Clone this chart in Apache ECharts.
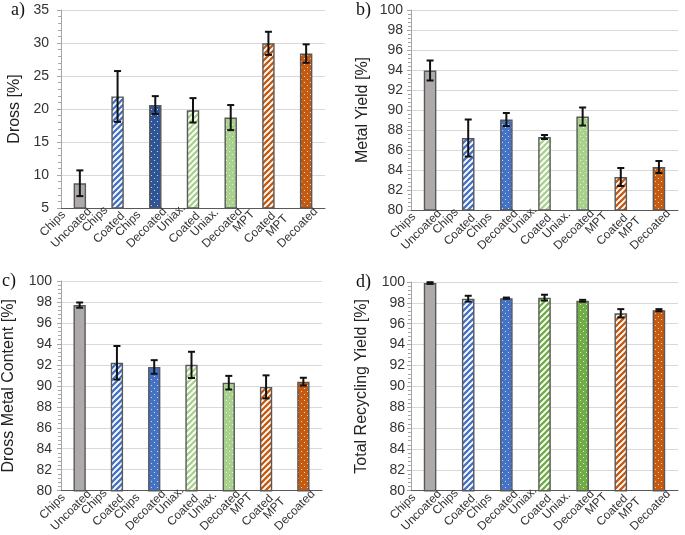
<!DOCTYPE html>
<html>
<head>
<meta charset="utf-8">
<script src="https://cdn.jsdelivr.net/npm/echarts@6/dist/echarts.min.js"></script>
<style>html,body{margin:0;padding:0;background:#fff;}#c{width:685px;height:535px;}</style>
</head>
<body>
<div id="c"></div>
<script>
const categories = ['Chips\nUncoated','Chips\nCoated','Chips\nDecoated','Uniax.\nCoated','Uniax.\nDecoated','MPT\nCoated','MPT\nDecoated'];
const drossValues = [8.75, 21.9, 20.6, 19.8, 18.7, 29.95, 28.4];
const drossErrors = [1.95, 3.85, 1.35, 1.85, 1.9, 1.75, 1.4];
const yieldValues = [93.95, 87.2, 89.05, 87.3, 89.35, 83.3, 84.3];
const yieldErrors = [1.0, 1.85, 0.65, 0.2, 0.9, 0.9, 0.6];
const contentValues = [97.7, 92.2, 91.8, 92.0, 90.3, 89.9, 90.4];
const contentErrors = [0.25, 1.6, 0.65, 1.25, 0.65, 1.1, 0.37];
const recyclingValues = [99.9, 98.4, 98.45, 98.5, 98.2, 97.0, 97.3];
const recyclingErrors = [0.08, 0.28, 0.06, 0.28, 0.09, 0.4, 0.1];
const panelLabels = ['a)', 'b)', 'c)', 'd)'];
const axisTitles = ['Dross [%]', 'Metal Yield [%]', 'Dross Metal Content [%]', 'Total Recycling Yield [%]'];

function stripe(color) {
  const s = 6, c = document.createElement('canvas');
  c.width = s; c.height = s;
  const g = c.getContext('2d');
  g.fillStyle = '#fff'; g.fillRect(0, 0, s, s);
  g.strokeStyle = color; g.lineWidth = 2.3; g.lineCap = 'square';
  g.beginPath();
  for (let k = -s; k <= 2 * s; k += s) { g.moveTo(k, s); g.lineTo(k + s, 0); }
  g.stroke();
  return { image: c, repeat: 'repeat' };
}
function dots(color) {
  const w = 6, h = 6, c = document.createElement('canvas');
  c.width = w; c.height = h;
  const g = c.getContext('2d');
  g.fillStyle = color; g.fillRect(0, 0, w, h);
  g.fillStyle = 'rgba(255,255,255,0.75)';
  g.fillRect(1, 1, 1, 1); g.fillRect(4, 4, 1, 1);
  return { image: c, repeat: 'repeat' };
}
const GRAY = '#aeaaaa', BLUE = '#4472c4', DBLUE = '#2f5597', LGREEN = '#a9d18e', GREEN = '#70ad47', ORANGE = '#c55a11';
function fills(decBlue, green) {
  return [GRAY, stripe(BLUE), dots(decBlue), stripe(green), dots(green), stripe(ORANGE), dots(ORANGE)];
}
const panelFills = [fills(DBLUE, LGREEN), fills(BLUE, LGREEN), fills(BLUE, LGREEN), fills(BLUE, GREEN)];
const grids = [
  { left: 61, top: 10, width: 264, height: 198 },
  { left: 411, top: 10, width: 267, height: 200 },
  { left: 61, top: 281, width: 261, height: 216 },
  { left: 411, top: 282, width: 267, height: 214 }
];
const yRanges = [[5, 35, 5], [80, 100, 2], [80, 100, 2], [80, 100, 2]];
const nameGaps = [38, 40, 44, 41];
const labelMargins = [12, 8, 9, 6];
const values = [drossValues, yieldValues, contentValues, recyclingValues];
const errors = [drossErrors, yieldErrors, contentErrors, recyclingErrors];
const labelPos = [[11, 1], [356, 1], [2, 272], [356, 273]];

const option = { animation: false, grid: [], xAxis: [], yAxis: [], series: [], title: [] };
for (let p = 0; p < 4; p++) {
  option.grid.push(grids[p]);
  option.title.push({ text: panelLabels[p], left: labelPos[p][0], top: labelPos[p][1], padding: 0,
    textStyle: { fontFamily: 'Liberation Serif', fontSize: 18, fontWeight: 'normal', color: '#111' } });
  option.xAxis.push({
    type: 'category', gridIndex: p, data: categories,
    axisLine: { show: true, lineStyle: { color: '#595959', width: 1 } },
    axisTick: { show: false },
    axisLabel: {
      interval: 0, rotate: 45, align: 'center', verticalAlign: 'middle', margin: 0,
      padding: [0, 40, 0, 0], color: '#333', fontFamily: 'Liberation Sans', fontSize: 12,
      formatter: v => v.split('\n').map(s => '{l|' + s + '}').join('\n'),
      rich: { l: { align: 'left', fontFamily: 'Liberation Sans', fontSize: 12, lineHeight: 16, color: '#333' } }
    }
  });
  option.yAxis.push({
    type: 'value', gridIndex: p, min: yRanges[p][0], max: yRanges[p][1], interval: yRanges[p][2],
    name: axisTitles[p], nameLocation: 'middle', nameRotate: 90, nameGap: nameGaps[p],
    nameTextStyle: { fontFamily: 'Liberation Sans', fontSize: 16, color: '#222' },
    axisLine: { show: true, lineStyle: { color: '#a6a6a6', width: 1 } },
    axisTick: { show: true, length: 4, lineStyle: { color: '#a6a6a6' } },
    minorTick: { show: true, splitNumber: 5, length: 3, lineStyle: { color: '#a6a6a6' } },
    splitLine: { show: true, lineStyle: { color: '#d9d9d9', width: 1 } },
    axisLabel: { fontFamily: 'Liberation Sans', fontSize: 14, color: '#333', margin: labelMargins[p] }
  });
  option.series.push({
    type: 'bar', xAxisIndex: p, yAxisIndex: p, barWidth: '33%', clip: true,
    data: values[p].map((v, i) => ({ value: v, itemStyle: { color: panelFills[p][i], borderColor: '#595959', borderWidth: 1.4 } }))
  });
  option.series.push({
    type: 'custom', xAxisIndex: p, yAxisIndex: p, z: 10,
    data: values[p].map((v, i) => [i, v, errors[p][i]]),
    renderItem: function (params, api) {
      const x = api.value(0), v = api.value(1), e = api.value(2);
      const t = api.coord([x, v + e]), b = api.coord([x, v - e]);
      const w = 3.5, st = { stroke: '#111', lineWidth: 2 };
      return { type: 'group', children: [
        { type: 'line', shape: { x1: t[0], y1: t[1], x2: b[0], y2: b[1] }, style: st },
        { type: 'line', shape: { x1: t[0] - w, y1: t[1], x2: t[0] + w, y2: t[1] }, style: st },
        { type: 'line', shape: { x1: b[0] - w, y1: b[1], x2: b[0] + w, y2: b[1] }, style: st }
      ] };
    }
  });
}
const chart = echarts.init(document.getElementById('c'), null, { renderer: 'canvas' });
chart.setOption(option);
</script>
</body>
</html>
